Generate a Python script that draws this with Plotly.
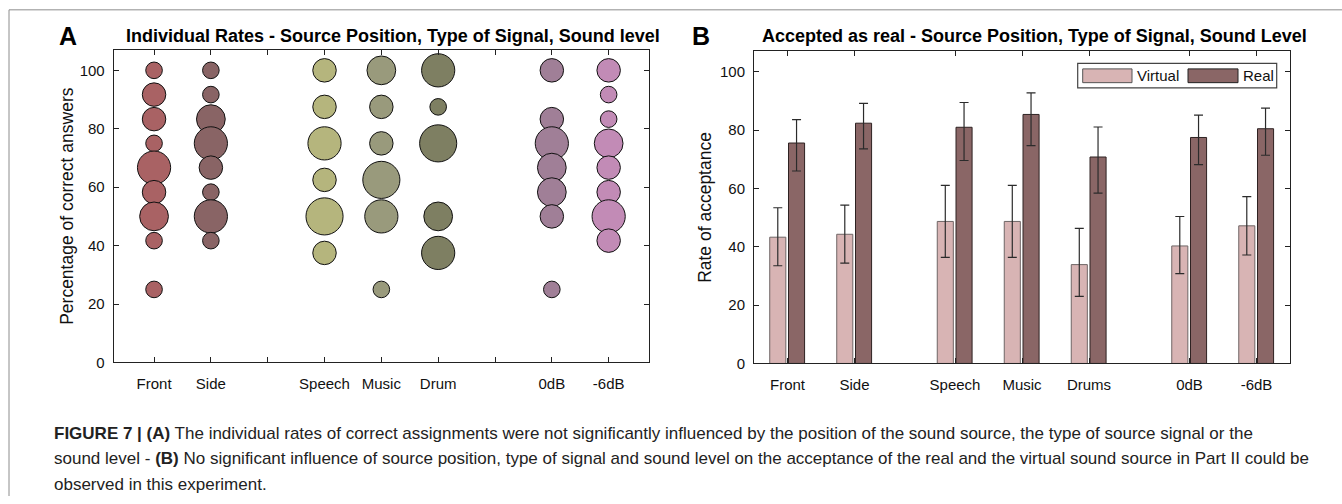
import plotly.graph_objects as go

W, H = 1342, 504

# ---------------- Panel A data (bubble chart) ----------------
a_categories = ["Front", "Side", "Speech", "Music", "Drum", "0dB", "-6dB"]
front_rates = [100, 91.7, 83.3, 75, 66.7, 58.3, 50, 41.7, 25]
front_counts = [1, 2, 2, 1, 4, 2, 3, 1, 1]
side_rates = [100, 91.7, 83.3, 75, 66.7, 58.3, 50, 41.7]
side_counts = [1, 1, 3, 4, 2, 1, 4, 1]
speech_rates = [100, 87.5, 75, 62.5, 50, 37.5]
speech_counts = [2, 2, 4, 2, 5, 2]
music_rates = [100, 87.5, 75, 62.5, 50, 25]
music_counts = [3, 2, 2, 5, 4, 1]
drum_rates = [100, 87.5, 75, 50, 37.5]
drum_counts = [4, 1, 5, 3, 4]
db0_rates = [100, 83.3, 75, 66.7, 58.3, 50, 25]
db0_counts = [2, 2, 4, 3, 3, 2, 1]
db6_rates = [100, 91.7, 83.3, 75, 66.7, 58.3, 50, 41.7]
db6_counts = [2, 1, 1, 3, 2, 2, 4, 2]

# ---------------- Panel B data (bar chart) ----------------
b_categories = ["Front", "Side", "Speech", "Music", "Drums", "0dB", "-6dB"]
virtual_mean = [43.3, 44.3, 48.7, 48.7, 33.9, 40.3, 47.2]
virtual_upper = [53.4, 54.3, 61.1, 61.1, 46.3, 50.4, 57.2]
virtual_lower = [33.5, 34.4, 36.4, 36.4, 23.0, 30.8, 37.2]
real_mean = [75.6, 82.4, 81.0, 85.4, 70.8, 77.5, 80.5]
real_upper = [83.6, 89.2, 89.5, 92.8, 81.1, 85.2, 87.6]
real_lower = [66.0, 73.6, 69.6, 74.7, 58.4, 68.2, 71.4]

# ---------------- styling / layout helpers ----------------
def X(px):
    return px / W

def Y(py):
    return 1 - py / H

a_positions = [1, 2, 4, 5, 6, 8, 9]
a_colors = ["#A96264", "#896465", "#B5B57D", "#999A7C", "#7E7F62", "#A07F97", "#C28BB6"]
b_positions = [1, 2, 3.5, 4.5, 5.5, 7, 8]
virtual_color = "#D8B4B4"
real_color = "#8A6666"
FONT = "Liberation Sans, Arial, sans-serif"
BUBBLE_UNIT = 16.6

a_series = [
    (front_rates, front_counts), (side_rates, side_counts),
    (speech_rates, speech_counts), (music_rates, music_counts),
    (drum_rates, drum_counts), (db0_rates, db0_counts), (db6_rates, db6_counts),
]

fig = go.Figure()

for name, pos, color, (rates, counts) in zip(a_categories, a_positions, a_colors, a_series):
    fig.add_trace(go.Scatter(
        x=[pos] * len(rates), y=rates, mode="markers", name=name,
        marker=dict(size=[BUBBLE_UNIT * c ** 0.5 for c in counts], sizemode="diameter",
                    color=color, opacity=1, line=dict(color="#111111", width=1)),
        xaxis="x", yaxis="y", showlegend=False, cliponaxis=False,
    ))

fig.add_trace(go.Bar(
    x=b_positions, y=virtual_mean, name="Virtual", offset=-0.265, width=0.24,
    marker=dict(color=virtual_color, line=dict(color="#6f6666", width=1)),
    error_y=dict(type="data", symmetric=False,
                 array=[u - m for u, m in zip(virtual_upper, virtual_mean)],
                 arrayminus=[m - l for m, l in zip(virtual_mean, virtual_lower)],
                 color="#2b2b2b", thickness=1.2, width=4.5),
    xaxis="x2", yaxis="y2", showlegend=False,
))
fig.add_trace(go.Bar(
    x=b_positions, y=real_mean, name="Real", offset=0.015, width=0.24,
    marker=dict(color=real_color, line=dict(color="#2e2222", width=1)),
    error_y=dict(type="data", symmetric=False,
                 array=[u - m for u, m in zip(real_upper, real_mean)],
                 arrayminus=[m - l for m, l in zip(real_mean, real_lower)],
                 color="#2b2b2b", thickness=1.2, width=4.5),
    xaxis="x2", yaxis="y2", showlegend=False,
))

axis_common = dict(showline=True, linecolor="#222222", linewidth=1, mirror="ticks",
                   ticks="inside", ticklen=5, tickwidth=1, tickcolor="#222222",
                   showgrid=False, zeroline=False,
                   tickfont=dict(family=FONT, size=15, color="#111111"))

a_ticktext = []
for p in range(1, 10):
    a_ticktext.append(a_categories[a_positions.index(p)] if p in a_positions else "")

fig.update_layout(
    width=W, height=H, margin=dict(l=0, r=0, t=0, b=0),
    paper_bgcolor="white", plot_bgcolor="white",
    barmode="overlay",
    xaxis=dict(axis_common, domain=[X(113.7), X(649)], range=[0.29, 9.71],
               tickvals=list(range(1, 10)), ticktext=a_ticktext, ticklabelstandoff=8),
    yaxis=dict(axis_common, domain=[Y(368.3), Y(50.7)], range=[0, 107],
               tickvals=[0, 20, 40, 60, 80, 100], ticklabelstandoff=5,
               title=dict(text="Percentage of correct answers",
                          font=dict(family=FONT, size=17.5, color="#111111"), standoff=1)),
    xaxis2=dict(axis_common, domain=[X(754), X(1290)], range=[0.5, 8.5],
                tickvals=b_positions, ticktext=b_categories, ticklabelstandoff=8),
    yaxis2=dict(axis_common, domain=[Y(369.3), Y(52.3)], range=[0, 107], anchor="x2",
                tickvals=[0, 20, 40, 60, 80, 100], ticklabelstandoff=5,
                title=dict(text="Rate of acceptance",
                           font=dict(family=FONT, size=17.5, color="#111111"), standoff=3)),
)
fig.layout.xaxis2.anchor = "y2"

shapes = [
    # figure frame (top and left edges visible)
    dict(type="line", xref="paper", yref="paper", x0=X(9), x1=X(1342), y0=Y(10), y1=Y(10),
         line=dict(color="#8c8c8c", width=1)),
    dict(type="line", xref="paper", yref="paper", x0=X(9), x1=X(9), y0=Y(10), y1=Y(504),
         line=dict(color="#8c8c8c", width=1)),
    # legend box of panel B
    dict(type="rect", xref="paper", yref="paper", x0=X(1077.7), x1=X(1276.7), y0=Y(89.3), y1=Y(64.3),
         line=dict(color="#444444", width=1.2), fillcolor="white"),
    dict(type="rect", xref="paper", yref="paper", x0=X(1082.7), x1=X(1132), y0=Y(84), y1=Y(70),
         line=dict(color="#555555", width=1), fillcolor=virtual_color),
    dict(type="rect", xref="paper", yref="paper", x0=X(1188), x1=X(1238), y0=Y(84), y1=Y(70),
         line=dict(color="#222222", width=1), fillcolor=real_color),
]

annotations = [
    dict(text="<b>A</b>", x=X(67.5), y=Y(36.5), font=dict(family=FONT, size=25, color="#000000")),
    dict(text="<b>B</b>", x=X(701), y=Y(36.5), font=dict(family=FONT, size=25, color="#000000")),
    dict(text="<b>Individual Rates - Source Position, Type of Signal, Sound level</b>",
         x=X(392.5), y=Y(37), font=dict(family=FONT, size=18, color="#000000")),
    dict(text="<b>Accepted as real - Source Position, Type of Signal, Sound Level</b>",
         x=X(1034), y=Y(37), font=dict(family=FONT, size=18, color="#000000")),
    dict(text="Virtual", x=X(1135), y=Y(77), xanchor="left",
         font=dict(family=FONT, size=15, color="#111111")),
    dict(text="Real", x=X(1241), y=Y(77), xanchor="left",
         font=dict(family=FONT, size=15, color="#111111")),
]

caption_lines = [
    "<b>FIGURE 7 | (A)</b> The individual rates of correct assignments were not significantly influenced by the position of the sound source, the type of source signal or the",
    "sound level - <b>(B)</b> No significant influence of source position, type of signal and sound level on the acceptance of the real and the virtual sound source in Part II could be",
    "observed in this experiment.",
]
for line, ypx in zip(caption_lines, [440, 466, 492]):
    annotations.append(dict(text=line, x=X(52), y=Y(ypx), xanchor="left",
                            font=dict(family=FONT, size=17, color="#222222")))

for a in annotations:
    a.setdefault("xanchor", "center")
    a.update(xref="paper", yref="paper", yanchor="middle", showarrow=False)

fig.update_layout(shapes=shapes, annotations=annotations)

fig.write_html("out.html", config={"displayModeBar": False},
               post_script="document.body.style.margin='0';document.body.style.padding='0';")
